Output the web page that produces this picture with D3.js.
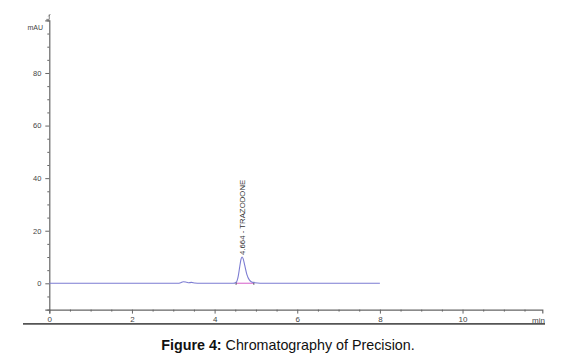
<!DOCTYPE html>
<html><head><meta charset="utf-8">
<script src="https://cdn.jsdelivr.net/npm/d3@7/dist/d3.min.js"></script>
<style>body{margin:0;background:#fff;}svg{display:block;font-family:"Liberation Sans",Arial,sans-serif;}</style>
</head><body>
<svg id="c" width="566" height="364"></svg>
<script>
// Data
const timeMin = [0, 3.1, 3.18, 3.24, 3.3, 3.36, 3.44, 3.52, 3.65, 4.45, 4.52, 4.57, 4.61, 4.64, 4.664, 4.69, 4.73, 4.78, 4.84, 4.9, 4.97, 5.1, 8.0];
const signalMAU = [0, 0, 0.2, 0.6, 0.5, 0.2, 0.35, 0.1, 0, 0, 0.3, 2.5, 6.5, 9.2, 10.0, 9.4, 6.8, 3.4, 1.3, 0.5, 0.2, 0.05, 0];
const peakLabel = ["4.664 - TRAZODONE"];
const peakTime = [4.664];
const peakHeight = [10.0];
const peakBaseStart = [4.52];
const peakBaseEnd = [4.95];
const xMajorTicks = [0, 2, 4, 6, 8, 10];
const yMajorTicks = [0, 20, 40, 60, 80];
const yUnit = "mAU";
const xUnit = "min";
const captionBold = "Figure 4:";
const captionText = " Chromatography of Precision.";

const svg = d3.select("#c");
const x = d3.scaleLinear().domain([0, 11.93]).range([49.3, 542.3]);
const y = d3.scaleLinear().domain([-10, 100]).range([309.6, 20.4]);

const axisCol = "#666", txtCol = "#444";

// minor ticks
const xMinor = d3.range(0, 12, 0.5).filter(v => !xMajorTicks.includes(v));
const yMinor = d3.range(-10, 101, 5).filter(v => !yMajorTicks.includes(v));

// Y axis
const gy = svg.append("g").attr("transform", `translate(${x(0)},0)`);
gy.call(d3.axisLeft(y).tickValues(yMajorTicks).tickSize(4).tickPadding(4).tickFormat(d3.format("d")));
const gyMinor = gy.append("g").call(d3.axisLeft(y).tickValues(yMinor).tickSize(2).tickFormat(""));
gyMinor.select(".domain").remove();
gy.selectAll(".domain").attr("stroke", axisCol).attr("stroke-width", 1.2);
gy.selectAll("line").attr("stroke", axisCol);
gy.selectAll("text").attr("fill", txtCol).attr("font-size", 7.5);

// X axis
const gx = svg.append("g").attr("transform", `translate(0,${y(-10)})`);
gx.call(d3.axisBottom(x).tickValues(xMajorTicks).tickSize(4).tickPadding(3).tickFormat(d3.format("d")));
const gxMinor = gx.append("g").call(d3.axisBottom(x).tickValues(xMinor).tickSize(2).tickFormat(""));
gxMinor.select(".domain").remove();
gx.selectAll(".domain").attr("stroke", axisCol).attr("stroke-width", 1.2);
gx.selectAll("line").attr("stroke", axisCol);
gx.selectAll("text").attr("fill", txtCol).attr("font-size", 8);

// units
svg.append("text").attr("x", 43).attr("y", 29.5).attr("text-anchor", "end")
  .attr("font-size", 7).attr("fill", txtCol).text(yUnit);
svg.append("text").attr("x", 545).attr("y", 323).attr("text-anchor", "end")
  .attr("font-size", 8).attr("fill", txtCol).text(xUnit);
// small marker at top of y axis
svg.append("path").attr("d", `M${x(0)-3},${y(100)-1} L${x(0)},${y(100)-1} L${x(0)},${y(100)-6} M${x(0)-1},${y(100)-4} L${x(0)+1},${y(100)-6}`)
  .attr("stroke", axisCol).attr("fill", "none").attr("stroke-width", 0.8);

// frame bottom line
svg.append("line").attr("x1", 23).attr("x2", 545).attr("y1", 323.8).attr("y2", 323.8)
  .attr("stroke", "#555").attr("stroke-width", 1.8);

// baseline under peak
svg.append("line").attr("x1", x(peakBaseStart[0])).attr("x2", x(peakBaseEnd[0]))
  .attr("y1", y(0)).attr("y2", y(0)).attr("stroke", "#e08ad8").attr("stroke-width", 1.4);
[peakBaseStart[0], peakBaseEnd[0]].forEach(t => {
  svg.append("line").attr("x1", x(t)).attr("x2", x(t)).attr("y1", y(0)-1.5).attr("y2", y(0)+1.5)
    .attr("stroke", "#555").attr("stroke-width", 1);
});

// signal
const line = d3.line().x((d, i) => x(timeMin[i])).y((d, i) => y(signalMAU[i])).curve(d3.curveMonotoneX);
svg.append("path").datum(signalMAU).attr("d", line).attr("fill", "none")
  .attr("stroke", "#7c7cd2").attr("stroke-width", 1.1);

// peak label
svg.append("text")
  .attr("transform", `translate(${x(peakTime[0]) + 2.8},${y(peakHeight[0]) - 2}) rotate(-90)`)
  .attr("font-size", 7.8).attr("fill", "#333").text(peakLabel[0]);

// caption
const cap = svg.append("text").attr("x", 288).attr("y", 350).attr("text-anchor", "middle")
  .attr("font-size", 14.3).attr("fill", "#111");
cap.append("tspan").attr("font-weight", "bold").text(captionBold);
cap.append("tspan").text(captionText);
</script>
</body></html>
